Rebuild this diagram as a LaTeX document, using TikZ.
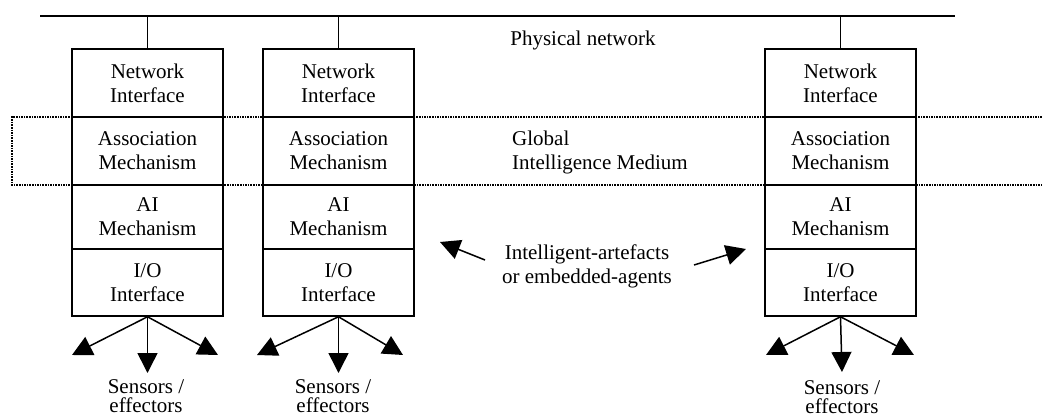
\documentclass[tikz,border=0pt]{standalone}
\usepackage{fontspec}
\setmainfont{Liberation Serif}
\usetikzlibrary{arrows.meta}
\tikzset{
  layer/.style={draw, fill=white, line width=1.5pt, minimum width=151pt, inner sep=0pt, align=center, font=\fontsize{21}{24}\selectfont},
  lbl/.style={inner sep=0pt, font=\fontsize{21}{24}\selectfont},
  sens/.style={inner sep=0pt, align=center, font=\fontsize{21}{19}\selectfont},
  outarrow/.style={line width=1.5pt, -{Triangle[width=20pt,length=20pt]}},
  net/.style={line width=1.5pt},
  gim/.style={line width=1.5pt, dash pattern=on 1.6pt off 1pt}
}
\begin{document}
\begin{tikzpicture}[x=1pt,y=-1pt]
\useasboundingbox (0,0) rectangle (1042,416);
% global intelligence medium (dotted)
\draw[gim] (1042,117) -- (12,117) -- (12,185) -- (1042,185);
% physical network line
\coordinate (L) at (40,16);
\coordinate (R) at (955,16);
\draw[net] (L) -- (R);
\foreach \c/\x in {1/147.5, 2/338.5, 3/840.5}{
  \node[layer, minimum height=68pt] (n\c) at (\x,83) {Network\\Interface};
  \node[layer, minimum height=68pt] (a\c) at (\x,151) {Association\\Mechanism};
  \node[layer, minimum height=64pt] (i\c) at (\x,217) {AI\\Mechanism};
  \node[layer, minimum height=67pt] (o\c) at (\x,282.5) {I/O\\Interface};
  \coordinate (t\c) at (\x,16);
  \draw[net] (t\c) -- (n\c.north);
}
% output arrows
\coordinate (l1) at (72,355);  \coordinate (m1) at (147.5,373); \coordinate (r1) at (218,355);
\coordinate (l2) at (257,355); \coordinate (m2) at (338.5,373); \coordinate (r2) at (403,355);
\coordinate (l3) at (766,355); \coordinate (m3) at (842,372);   \coordinate (r3) at (914,355);
\foreach \c in {1,2,3}{
  \draw[outarrow] (o\c.south) -- (l\c);
  \draw[outarrow] (o\c.south) -- (m\c);
  \draw[outarrow] (o\c.south) -- (r\c);
}
\node[sens] (s1) at (146,396) {Sensors /\\effectors};
\node[sens] (s2) at (333,396) {Sensors /\\effectors};
\node[sens] (s3) at (842,397) {Sensors /\\effectors};
% labels
\node[lbl] (pn) at (583,40) {Physical network};
\node[lbl, anchor=west, align=left] (gm) at (512,152) {Global\\Intelligence Medium};
\node[lbl, align=center] (ia) at (587,266) {Intelligent-artefacts\\or embedded-agents};
\coordinate (ia1) at (485,260); \coordinate (ia1t) at (440,242);
\coordinate (ia2) at (694,265); \coordinate (ia2t) at (746,249);
\draw[outarrow] (ia1) -- (ia1t);
\draw[outarrow] (ia2) -- (ia2t);
\end{tikzpicture}
\end{document}
